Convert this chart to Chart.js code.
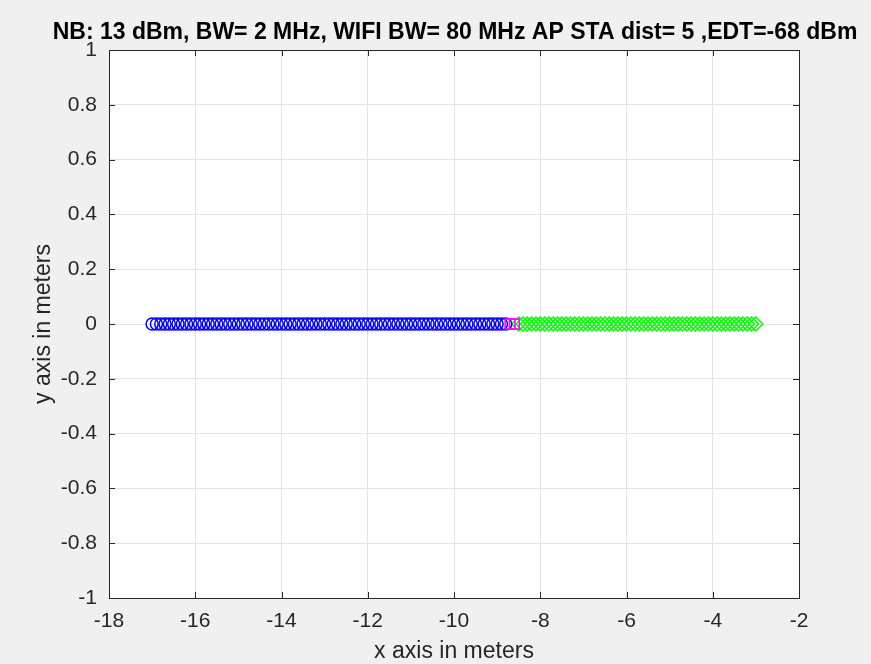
<!DOCTYPE html>
<html>
<head>
<meta charset="utf-8">
<script src="https://cdn.jsdelivr.net/npm/chart.js@4"></script>
<style>
  body { margin: 0; background: #f0f0f0; }
  canvas { display: block; }
</style>
</head>
<body>
<canvas id="posChart" width="871" height="664"></canvas>
<script>
// x positions (y is 0 for all of them)
const blueX = [
  -17.0, -16.9, -16.8, -16.7, -16.6, -16.5, -16.4, -16.3, -16.2, -16.1,
  -16.0, -15.9, -15.8, -15.7, -15.6, -15.5, -15.4, -15.3, -15.2, -15.1,
  -15.0, -14.9, -14.8, -14.7, -14.6, -14.5, -14.4, -14.3, -14.2, -14.1,
  -14.0, -13.9, -13.8, -13.7, -13.6, -13.5, -13.4, -13.3, -13.2, -13.1,
  -13.0, -12.9, -12.8, -12.7, -12.6, -12.5, -12.4, -12.3, -12.2, -12.1,
  -12.0, -11.9, -11.8, -11.7, -11.6, -11.5, -11.4, -11.3, -11.2, -11.1,
  -11.0, -10.9, -10.8, -10.7, -10.6, -10.5, -10.4, -10.3, -10.2, -10.1,
  -10.0, -9.9, -9.8, -9.7, -9.6, -9.5, -9.4, -9.3, -9.2, -9.1,
  -9.0, -8.9, -8.8
];
const blueY = [
  0, 0, 0, 0, 0, 0, 0, 0, 0, 0,
  0, 0, 0, 0, 0, 0, 0, 0, 0, 0,
  0, 0, 0, 0, 0, 0, 0, 0, 0, 0,
  0, 0, 0, 0, 0, 0, 0, 0, 0, 0,
  0, 0, 0, 0, 0, 0, 0, 0, 0, 0,
  0, 0, 0, 0, 0, 0, 0, 0, 0, 0,
  0, 0, 0, 0, 0, 0, 0, 0, 0, 0,
  0, 0, 0, 0, 0, 0, 0, 0, 0, 0,
  0, 0, 0
];
const magentaX = [-8.7, -8.6];
const magentaY = [0, 0];
const greenX = [
  -8.5, -8.4, -8.3, -8.2, -8.1,
  -8.0, -7.9, -7.8, -7.7, -7.6, -7.5, -7.4, -7.3, -7.2, -7.1,
  -7.0, -6.9, -6.8, -6.7, -6.6, -6.5, -6.4, -6.3, -6.2, -6.1,
  -6.0, -5.9, -5.8, -5.7, -5.6, -5.5, -5.4, -5.3, -5.2, -5.1,
  -5.0, -4.9, -4.8, -4.7, -4.6, -4.5, -4.4, -4.3, -4.2, -4.1,
  -4.0, -3.9, -3.8, -3.7, -3.6, -3.5, -3.4, -3.3, -3.2, -3.1,
  -3.0
];
const greenY = [
  0, 0, 0, 0, 0,
  0, 0, 0, 0, 0, 0, 0, 0, 0, 0,
  0, 0, 0, 0, 0, 0, 0, 0, 0, 0,
  0, 0, 0, 0, 0, 0, 0, 0, 0, 0,
  0, 0, 0, 0, 0, 0, 0, 0, 0, 0,
  0, 0, 0, 0, 0, 0, 0, 0, 0, 0,
  0
];
const xTicks = [-18, -16, -14, -12, -10, -8, -6, -4, -2];
const yTicks = [-1, -0.8, -0.6, -0.4, -0.2, 0, 0.2, 0.4, 0.6, 0.8, 1];
const titleText = 'NB: 13 dBm, BW= 2 MHz, WIFI BW= 80 MHz AP STA dist= 5 ,EDT=-68 dBm';

function toPoints(xs, ys) {
  return xs.map((x, i) => ({ x: x, y: ys[i] }));
}

const axisColor = '#262626';
const fontFamily = 'Arial, Helvetica, "Liberation Sans", sans-serif';

// grey figure background + white axes area
const backgroundPlugin = {
  id: 'bg',
  beforeDraw(chart) {
    const { ctx, chartArea: a } = chart;
    ctx.save();
    ctx.fillStyle = '#f0f0f0';
    ctx.fillRect(0, 0, chart.width, chart.height);
    ctx.fillStyle = '#ffffff';
    ctx.fillRect(a.left, a.top, a.right - a.left, a.bottom - a.top);
    ctx.restore();
  }
};

// matlab style box with inward tick marks on all four sides
const boxPlugin = {
  id: 'box',
  afterDatasetsDraw(chart) {
    const { ctx, chartArea: a, scales } = chart;
    const len = 6;
    ctx.save();
    ctx.strokeStyle = axisColor;
    ctx.lineWidth = 1;
    ctx.beginPath();
    xTicks.forEach(v => {
      const px = Math.round(scales.x.getPixelForValue(v)) + 0.5;
      ctx.moveTo(px, a.bottom); ctx.lineTo(px, a.bottom - len);
      ctx.moveTo(px, a.top); ctx.lineTo(px, a.top + len);
    });
    yTicks.forEach(v => {
      const py = Math.round(scales.y.getPixelForValue(v)) + 0.5;
      ctx.moveTo(a.left, py); ctx.lineTo(a.left + len, py);
      ctx.moveTo(a.right, py); ctx.lineTo(a.right - len, py);
    });
    ctx.stroke();
    ctx.strokeRect(Math.round(a.left) + 0.5, Math.round(a.top) + 0.5,
      Math.round(a.right - a.left), Math.round(a.bottom - a.top));
    ctx.restore();
  }
};

new Chart(document.getElementById('posChart'), {
  type: 'scatter',
  data: {
    datasets: [
      {
        label: 'magenta',
        data: toPoints(magentaX, magentaY),
        pointStyle: 'rect',
        pointRadius: 7,
        borderColor: '#ff00ff',
        backgroundColor: 'rgba(0,0,0,0)',
        borderWidth: 1.5
      },
      {
        label: 'blue',
        data: toPoints(blueX, blueY),
        pointStyle: 'circle',
        pointRadius: 6,
        borderColor: '#0000ff',
        backgroundColor: 'rgba(0,0,0,0)',
        borderWidth: 1.5
      },
      {
        label: 'green',
        data: toPoints(greenX, greenY),
        pointStyle: 'rectRot',
        pointRadius: 7,
        borderColor: '#00ff00',
        backgroundColor: 'rgba(0,0,0,0)',
        borderWidth: 1.5
      }
    ]
  },
  options: {
    responsive: false,
    animation: false,
    // left padding shifts the full-width title so it centres over the plot box
    layout: { padding: { left: 39, right: 0, top: 0, bottom: 0 } },
    plugins: {
      legend: { display: false },
      tooltip: { enabled: false },
      title: {
        display: true,
        text: titleText,
        fullSize: true,
        color: '#000000',
        font: { family: fontFamily, size: 23, weight: 'bold', lineHeight: 1.2 },
        padding: { top: 19, bottom: 3.4 }
      }
    },
    scales: {
      x: {
        type: 'linear',
        min: -18,
        max: -2,
        afterBuildTicks(scale) { scale.ticks = xTicks.map(v => ({ value: v })); },
        afterFit(scale) { scale.height = 66; },
        grid: { color: '#e3e3e3', drawTicks: false },
        border: { display: false },
        ticks: {
          color: axisColor,
          padding: 11,
          font: { family: fontFamily, size: 21 }
        },
        title: {
          display: true,
          text: 'x axis in meters',
          color: axisColor,
          font: { family: fontFamily, size: 23 },
          padding: { top: 0, bottom: -1 }
        }
      },
      y: {
        type: 'linear',
        min: -1,
        max: 1,
        afterBuildTicks(scale) { scale.ticks = yTicks.map(v => ({ value: v })); },
        afterFit(scale) { scale.width = 70; },
        grid: { color: '#e3e3e3', drawTicks: false },
        border: { display: false },
        ticks: {
          color: axisColor,
          padding: 12,
          font: { family: fontFamily, size: 21 },
          callback: v => String(Math.round(v * 10) / 10)
        },
        title: {
          display: true,
          text: 'y axis in meters',
          color: axisColor,
          font: { family: fontFamily, size: 23 },
          padding: { top: -9, bottom: 0 }
        }
      },
      // empty right-hand axis that only reserves the grey margin
      yRight: {
        type: 'linear',
        position: 'right',
        min: -1,
        max: 1,
        afterFit(scale) { scale.width = 72; },
        grid: { display: false },
        border: { display: false },
        ticks: { display: false }
      }
    }
  },
  plugins: [backgroundPlugin, boxPlugin]
});
</script>
</body>
</html>
